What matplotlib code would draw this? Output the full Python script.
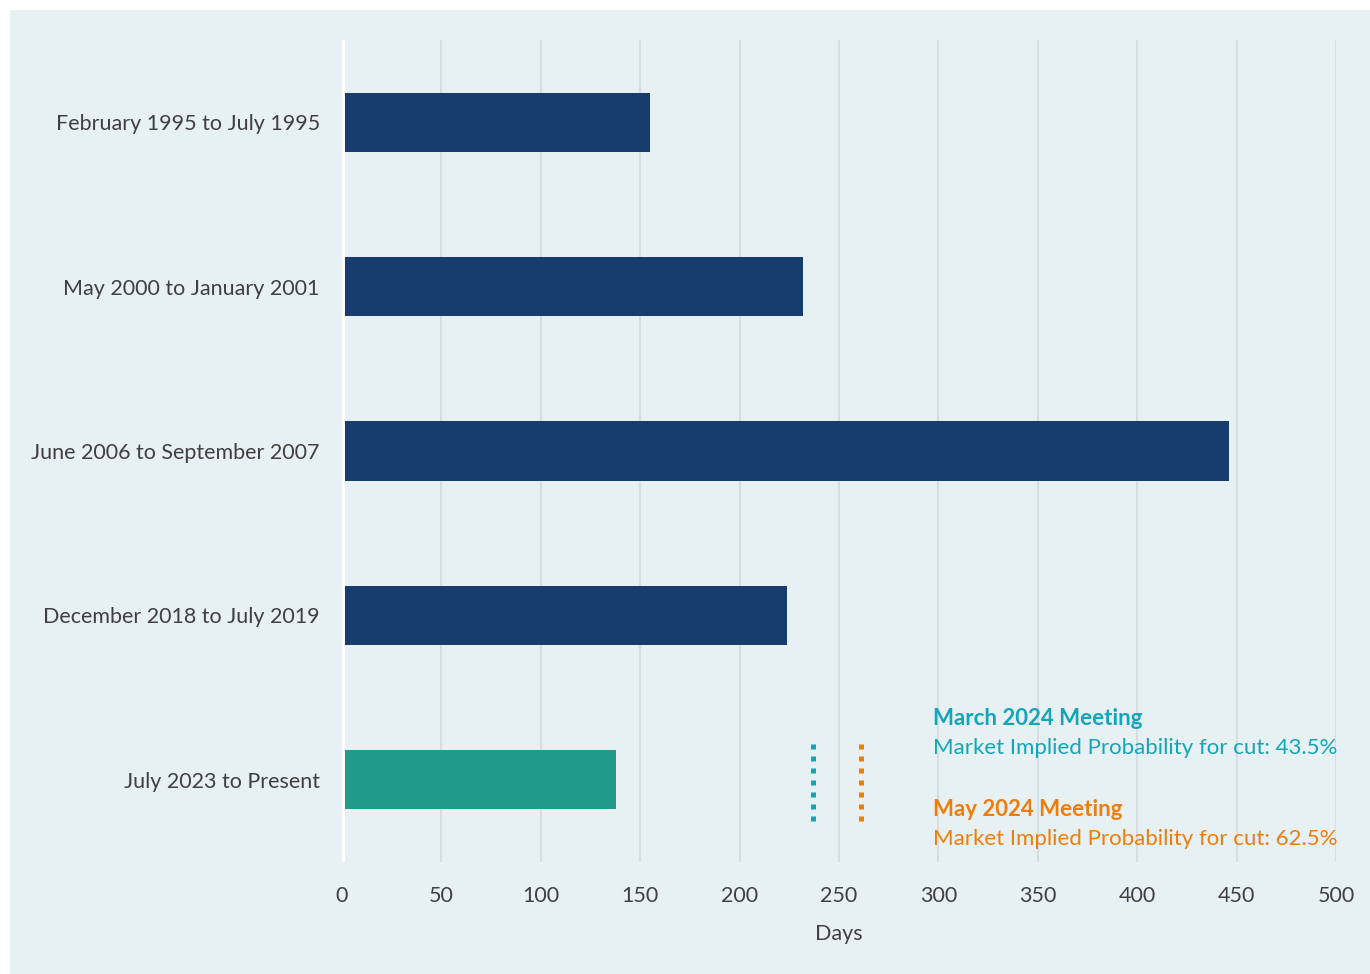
import matplotlib.pyplot as plt
from matplotlib.patches import Rectangle

# Data
periods = [
    "February 1995 to July 1995",
    "May 2000 to January 2001",
    "June 2006 to September 2007",
    "December 2018 to July 2019",
    "July 2023 to Present",
]
days = [155, 232, 446, 224, 138]
bar_colors = ["#173D6E", "#173D6E", "#173D6E", "#173D6E", "#1F9A8B"]

meeting_names = ["March 2024 Meeting", "May 2024 Meeting"]
meeting_days = [237, 261]
meeting_probs = [43.5, 62.5]
meeting_colors = ["#13A6B9", "#EF7D0B"]

x_ticks = [0, 50, 100, 150, 200, 250, 300, 350, 400, 450, 500]

plt.rcParams["font.family"] = ["Lato", "DejaVu Sans"]
bg = "#E7F0F3"
text_color = "#404040"

fig = plt.figure(figsize=(13.7, 9.74), dpi=100, facecolor="white")
panel = Rectangle((10 / 1370, 0), 1 - 10 / 1370, 1 - 10 / 974,
                  transform=fig.transFigure, facecolor=bg,
                  edgecolor="none", zorder=-10)
fig.add_artist(panel)
ax = fig.add_axes([342 / 1370, 1 - 862 / 974, (1336 - 342) / 1370, (862 - 40) / 974])
ax.set_facecolor(bg)

y = list(range(len(periods)))
ax.barh(y, days, height=0.36, color=bar_colors, zorder=3)

ax.set_xlim(0, 500)
ax.set_ylim(4.5, -0.5)
ax.set_xticks(x_ticks)
ax.set_yticks(y)
ax.set_yticklabels(periods)
ax.grid(axis="x", color="#D6DEE2", linewidth=1.5, zorder=1)
ax.axvline(0, color="white", linewidth=3.6, zorder=4)
for s in ax.spines.values():
    s.set_visible(False)
ax.tick_params(axis="both", length=0, labelsize=15.5, labelcolor=text_color)
ax.tick_params(axis="x", pad=17)
ax.tick_params(axis="y", pad=16)
ax.set_xlabel("Days", fontsize=15.5, color=text_color, labelpad=13)

# Meeting markers
for d, c in zip(meeting_days, meeting_colors):
    ax.plot([d, d], [3.78, 4.25], color=c, linewidth=3.6,
            linestyle=(0, (1, 1.4)), solid_capstyle="butt",
            dash_capstyle="butt", zorder=5)

text_x = 297.5
ys = [(3.628, 3.808), (4.183, 4.363)]
for name, p, c, (y1, y2) in zip(meeting_names, meeting_probs, meeting_colors, ys):
    ax.text(text_x, y1, name, color=c, fontsize=16, fontweight="bold",
            va="center", ha="left", zorder=6)
    ax.text(text_x, y2, f"Market Implied Probability for cut: {p}%", color=c,
            fontsize=16, va="center", ha="left", zorder=6)

fig.savefig("out.png", dpi=100, facecolor="white")
